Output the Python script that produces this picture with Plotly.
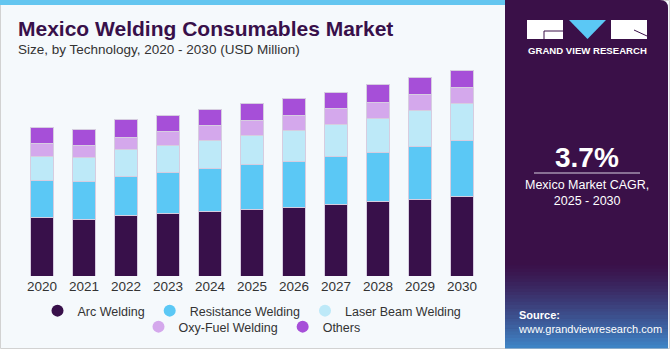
import plotly.graph_objects as go

years = ["2020", "2021", "2022", "2023", "2024", "2025", "2026", "2027", "2028", "2029", "2030"]
arc = [196.1, 190.7, 202.9, 209.6, 216.3, 224.4, 232.1, 239.9, 250.0, 256.7, 266.8]
resistance = [124.5, 126.5, 133.5, 137.9, 146.0, 150.0, 154.7, 160.5, 166.2, 180.6, 187.4]
laser = [83.1, 83.1, 88.5, 93.2, 95.2, 97.6, 101.9, 110.0, 114.4, 118.7, 124.5]
oxy = [43.7, 39.4, 42.7, 44.7, 48.1, 49.5, 50.5, 51.5, 52.5, 53.8, 54.8]
others = [53.8, 54.8, 58.2, 53.8, 55.2, 57.2, 58.5, 56.2, 60.6, 58.5, 59.5]
series_names = ["Arc Welding", "Resistance Welding", "Laser Beam Welding", "Oxy-Fuel Welding", "Others"]
series_vals = [arc, resistance, laser, oxy, others]
colors = ["#38104a", "#5bc8f5", "#bde9f8", "#d4a8ec", "#a64fd8"]
label_year = "2024"
label_text = "$560.8M"

W, H = 670, 350
L, R, T, B = 21, 187, 60, 74
PW, PH = W - L - R, H - T - B
YMAX = PH * 560.8 / 166.7

def px(x):
    return (x - L) / PW

def py(y):
    return (H - B - y) / PH

fig = go.Figure()
for i, (name, vals) in enumerate(zip(series_names, series_vals)):
    fig.add_trace(go.Bar(x=years, y=vals, name=name, marker=dict(color=colors[i], line=dict(color="#d6cde0", width=1)),
                         width=0.56, showlegend=False))
for i, name in enumerate(series_names):
    fig.add_trace(go.Scatter(x=[None], y=[None], mode="markers", name=name,
                             marker=dict(color=colors[i], size=9, symbol="circle"),
                             legend="legend" if i < 3 else "legend2"))

shapes = []
shapes.append(dict(type="rect", xref="paper", yref="paper", x0=px(0.5), x1=px(669.5), y0=py(0.5), y1=py(348.5),
                   fillcolor="#f5f9fc", line=dict(color="#d2d2d2", width=1), layer="below"))
shapes.append(dict(type="rect", xref="paper", yref="paper", x0=px(0), x1=px(505), y0=py(0), y1=py(5),
                   fillcolor="#64c6f0", line=dict(width=0), layer="below"))
shapes.append(dict(type="path", xref="paper", yref="paper",
                   path=f"M {px(505)},{py(0)} L {px(660)},{py(0)} Q {px(668)},{py(0)} {px(668)},{py(8)} L {px(668)},{py(348)} L {px(505)},{py(348)} Z",
                   fillcolor="#3a1048", line=dict(width=0), layer="below"))
n = 26
y_start, y_end = 262, 348
c0 = (0x3a, 0x10, 0x48)
c1 = (0x3f, 0x86, 0xc8)
for k in range(n):
    f = (k + 0.5) / n
    f2 = f ** 1.3
    c = tuple(int(c0[j] + (c1[j] - c0[j]) * f2) for j in range(3))
    ya = y_start + (y_end - y_start) * k / n
    yb = y_start + (y_end - y_start) * (k + 1) / n
    shapes.append(dict(type="rect", xref="paper", yref="paper", x0=px(505), x1=px(668), y0=py(ya), y1=py(yb + 0.5),
                       fillcolor=f"rgb{c}", line=dict(width=0), layer="below"))
shapes.append(dict(type="rect", xref="paper", yref="paper", x0=px(527), x1=px(563), y0=py(20), y1=py(39),
                   fillcolor="white", line=dict(width=0)))
shapes.append(dict(type="path", xref="paper", yref="paper",
                   path=f"M {px(569)},{py(20)} L {px(606)},{py(20)} L {px(587.5)},{py(39)} Z",
                   fillcolor="#5bc8f5", line=dict(width=0)))
shapes.append(dict(type="rect", xref="paper", yref="paper", x0=px(611), x1=px(647), y0=py(20), y1=py(39),
                   fillcolor="white", line=dict(width=0)))
shapes.append(dict(type="line", xref="paper", yref="paper", x0=px(544), x1=px(563), y0=py(31), y1=py(31),
                   line=dict(color="#3a1048", width=1)))
shapes.append(dict(type="line", xref="paper", yref="paper", x0=px(544), x1=px(544), y0=py(31), y1=py(39),
                   line=dict(color="#3a1048", width=1)))
shapes.append(dict(type="line", xref="paper", yref="paper", x0=px(634), x1=px(647), y0=py(30), y1=py(36),
                   line=dict(color="#3a1048", width=1)))
shapes.append(dict(type="line", xref="paper", yref="paper", x0=px(534), x1=px(640), y0=py(173), y1=py(173),
                   line=dict(color="#d8d0e0", width=1)))

FONT = "Liberation Sans, Arial, sans-serif"
ann = []
ann.append(dict(text="<b>Mexico Welding Consumables Market</b>", x=px(16), y=py(29), xref="paper", yref="paper",
                xanchor="left", yanchor="middle", showarrow=False, font=dict(family=FONT, size=21, color="#38104a")))
ann.append(dict(text="Size, by Technology, 2020 - 2030 (USD Million)", x=px(16), y=py(49), xref="paper", yref="paper",
                xanchor="left", yanchor="middle", showarrow=False, font=dict(family=FONT, size=13.5, color="#333333")))
ann.append(dict(text="<b>GRAND VIEW RESEARCH</b>", x=px(587), y=py(51), xref="paper", yref="paper",
                xanchor="center", yanchor="middle", showarrow=False, font=dict(family=FONT, size=9.6, color="white")))
ann.append(dict(text="<b>3.7%</b>", x=px(587), y=py(157), xref="paper", yref="paper",
                xanchor="center", yanchor="middle", showarrow=False, font=dict(family=FONT, size=28, color="white")))
ann.append(dict(text="Mexico Market CAGR,<br>2025 - 2030", x=px(587), y=py(193), xref="paper", yref="paper",
                xanchor="center", yanchor="middle", showarrow=False, font=dict(family=FONT, size=12.5, color="white")))
ann.append(dict(text="<b>Source:</b><br>www.grandviewresearch.com", x=px(516), y=py(322), xref="paper", yref="paper",
                xanchor="left", yanchor="middle", align="left", showarrow=False, font=dict(family=FONT, size=11, color="white")))
idx = years.index(label_year)
total = sum(v[idx] for v in series_vals)
ann.append(dict(text=label_text, x=label_year, y=total, xref="x", yref="y", yanchor="bottom", yshift=6,
                showarrow=False, font=dict(family=FONT, size=14, color="#333333")))

legend_common = dict(orientation="h", xref="container", yref="container", xanchor="center", yanchor="middle",
                     font=dict(family=FONT, size=12.5, color="#333333"), bgcolor="rgba(0,0,0,0)",
                     itemsizing="constant", itemwidth=30, traceorder="normal", tracegroupgap=0)

fig.update_layout(
    width=W, height=H, margin=dict(l=L, r=R, t=T, b=B, pad=0, autoexpand=False),
    paper_bgcolor="white", plot_bgcolor="rgba(0,0,0,0)",
    barmode="stack", bargap=0.44,
    shapes=shapes, annotations=ann,
    legend=dict(x=252 / W, y=1 - 311 / H, **legend_common),
    legend2=dict(x=252 / W, y=1 - 327 / H, **legend_common),
    xaxis=dict(type="category", range=[-0.5, 10.5], showgrid=False, showline=False, ticks="", automargin=False,
               tickfont=dict(family=FONT, size=13.5, color="#333333")),
    yaxis=dict(range=[0, YMAX], visible=False, showgrid=False, automargin=False),
)

fig.write_html("out.html")
